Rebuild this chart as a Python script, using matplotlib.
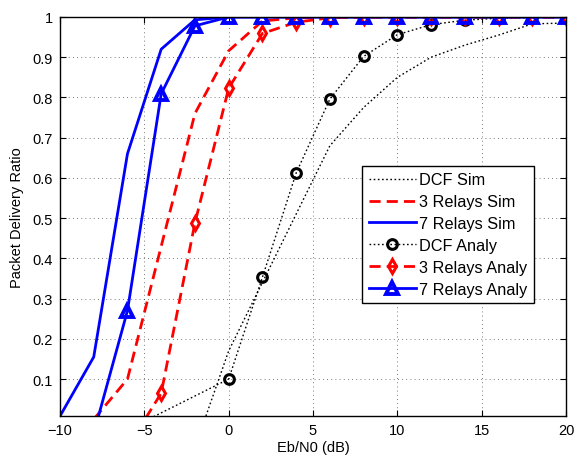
import numpy as np
import matplotlib
matplotlib.use("Agg")
import matplotlib.pyplot as plt

# Eb/N0 grid (dB)
snr = [-10, -8, -6, -4, -2, 0, 2, 4, 6, 8, 10, 12, 14, 16, 18, 20]
nan = np.nan

# simulation curves
dcf_sim = [nan, nan, nan, nan, -0.07, 0.17, 0.34, 0.51, 0.68, 0.775, 0.85, 0.90, 0.93, 0.955, 0.983, 0.985]
relay3_sim = [0.0, 0.0, 0.10, 0.43, 0.76, 0.916, 0.99, 0.998, 1, 1, 1, 1, 1, 1, 1, 1]
relay7_sim = [0.008, 0.155, 0.66, 0.92, 0.993, 1, 1, 1, 1, 1, 1, 1, 1, 1, 1, 1]

# analytical curves
snr_dcf_an = [-6, 0, 2, 4, 6, 8, 10, 12, 14, 16, 18, 20]
dcf_an = [-0.026, 0.10, 0.353, 0.612, 0.796, 0.902, 0.956, 0.981, 0.992, 0.997, 0.999, 1.0]
relay3_an = [nan, nan, -0.07, 0.065, 0.488, 0.823, 0.959, 0.987, 0.998, 1, 1, 1, 1, 1, 1, 1]
relay7_an = [nan, -0.035, 0.27, 0.809, 0.978, 1, 1, 1, 1, 1, 1, 1, 1, 1, 1, 1]

xticks = [-10, -5, 0, 5, 10, 15, 20]
yticks = [0.1, 0.2, 0.3, 0.4, 0.5, 0.6, 0.7, 0.8, 0.9, 1]


def main():
    plt.rcParams['font.family'] = ['Liberation Sans', 'DejaVu Sans']
    plt.rcParams['font.size'] = 10.5

    fig = plt.figure(figsize=(5.74, 4.56), dpi=100)
    ax = fig.add_axes([60 / 574, 1 - 417.3 / 456, 506 / 574, 399.3 / 456])

    dot = (0, (1.2, 1.8))
    dash = (0, (4, 2.2))

    ax.plot(snr, dcf_sim, color='k', lw=1.0, linestyle=dot, label='DCF Sim')
    ax.plot(snr, relay3_sim, color='r', lw=2.0, linestyle=dash, label='3 Relays Sim')
    ax.plot(snr, relay7_sim, color='b', lw=2.0, linestyle='-', label='7 Relays Sim')
    ax.plot(snr_dcf_an, dcf_an, color='k', lw=1.0, linestyle=dot, marker='o', ms=7,
            mfc='none', mew=2.2, label='DCF Analy')
    ax.plot(snr, relay3_an, color='r', lw=2.0, linestyle=dash, marker='d', ms=7.5,
            mfc='none', mew=2.2, label='3 Relays Analy')
    ax.plot(snr, relay7_an, color='b', lw=2.0, linestyle='-', marker='^', ms=9,
            mfc='none', mew=2.8, label='7 Relays Analy')

    ax.set_xlim(-10, 20)
    ax.set_ylim(0.0075, 1)
    ax.set_xticks(xticks)
    ax.set_yticks(yticks)
    ax.set_yticklabels(['0.1', '0.2', '0.3', '0.4', '0.5', '0.6', '0.7', '0.8', '0.9', '1'])
    ax.tick_params(direction='in', length=4, width=0.8, top=True, right=True, pad=5)
    ax.grid(True, color='k', linestyle=(0, (1, 4)), linewidth=0.6, alpha=0.7)
    for s in ax.spines.values():
        s.set_linewidth(1.0)

    ax.set_xlabel('Eb/N0 (dB)', labelpad=2)
    ax.set_ylabel('Packet Delivery Ratio', labelpad=6)

    leg = ax.legend(loc='upper left', bbox_to_anchor=(0.597, 0.627), fancybox=False,
                    framealpha=1, edgecolor='k', handlelength=2.9, handletextpad=0.2,
                    borderpad=0.4, labelspacing=0.42, borderaxespad=0, fontsize=11.7)
    leg.get_frame().set_linewidth(1.0)

    fig.savefig('out.png', dpi=100)


if __name__ == "__main__":
    main()
